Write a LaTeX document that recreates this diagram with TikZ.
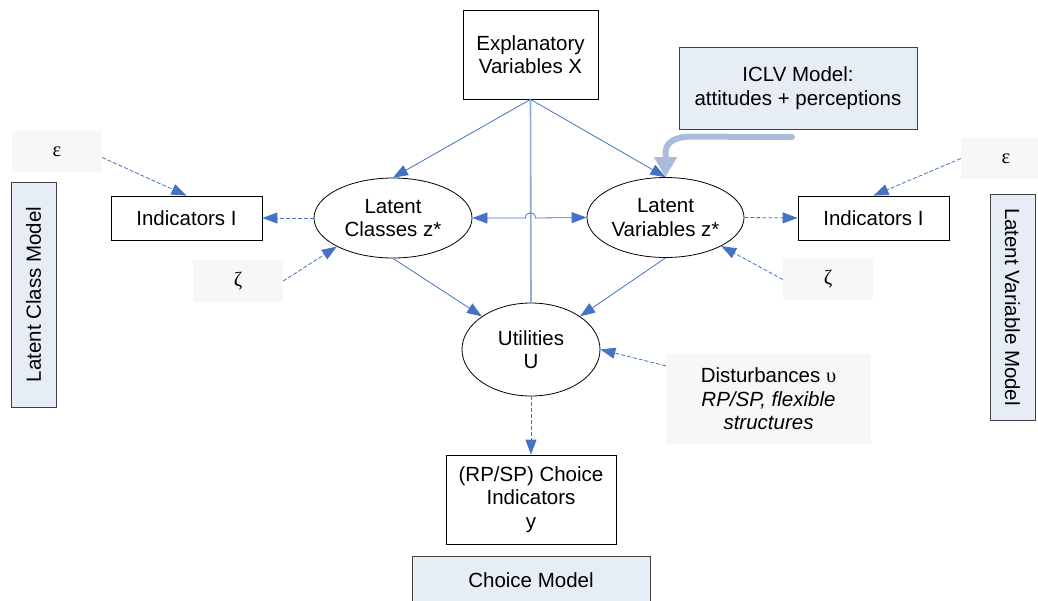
\documentclass[tikz,border=0pt]{standalone}
\usepackage{fontspec}
\setmainfont{Liberation Sans}
\newfontfamily\grk{Liberation Serif}
\usetikzlibrary{shapes.geometric,arrows.meta,calc}
\definecolor{arrowblue}{HTML}{4472C4}
\definecolor{vblue}{HTML}{8EAADB}
\definecolor{thickblue}{HTML}{A9BDDA}
\definecolor{mfill}{HTML}{E6EDF7}
\definecolor{gfill}{HTML}{F7F7F7}
\begin{document}
\begin{tikzpicture}[x=1pt,y=-1pt,
  every node/.style={font=\fontsize{20.5}{23.5}\selectfont, align=center, inner sep=0pt},
  box/.style={draw=black, line width=0.8pt, rectangle},
  ell/.style={draw=black, line width=0.8pt, ellipse},
  gbox/.style={fill=gfill, rectangle},
  mbox/.style={draw=black!75, line width=0.9pt, fill=mfill, rectangle},
  tip/.tip={Triangle[length=15pt,width=11pt]},
  link/.style={draw=arrowblue, line width=0.8pt, -tip},
  dlink/.style={link, dash pattern=on 4pt off 2pt},
  vline/.style={draw=vblue, line width=1.6pt},
  thickarrow/.style={draw=thickblue, line width=6pt, line cap=round, -{Triangle[length=20pt,width=22pt]}}
]
\clip (0,0) rectangle (1038,600);
\fill[white] (0,0) rectangle (1038,600);

% nodes
\node[box, minimum width=135pt, minimum height=89pt] (X) at (530.5,54.5) {Explanatory\\Variables X};
\node[mbox, minimum width=238pt, minimum height=82pt] (iclv) at (798,88) {ICLV Model:\\attitudes + perceptions};
\node[ell, minimum width=158pt, minimum height=80pt] (lc) at (393,218) {Latent\\Classes z*};
\node[ell, minimum width=157pt, minimum height=80pt] (lv) at (665.5,217.5) {Latent\\Variables z*};
\node[box, minimum width=151pt, minimum height=44pt] (indL) at (186.5,218) {Indicators I};
\node[box, minimum width=151pt, minimum height=44pt] (indR) at (873.5,218) {Indicators I};
\node[gbox, minimum width=90pt, minimum height=41pt] (epsL) at (57,151.5) {\grk ε};
\node[gbox, minimum width=90pt, minimum height=42pt] (zetaL) at (238,281) {\grk ζ};
\node[gbox, minimum width=90pt, minimum height=41pt] (epsR) at (1006,158.5) {\grk ε};
\node[gbox, minimum width=90pt, minimum height=41pt] (zetaR) at (828,279.5) {\grk ζ};
\node[ell, minimum width=138pt, minimum height=93pt] (U) at (531,349.5) {Utilities\\U};
\node[gbox, minimum width=205pt, minimum height=90pt] (dist) at (768.5,399) {Disturbances {\grk υ}\\\textit{RP/SP, flexible}\\\textit{structures}};
\node[box, minimum width=170pt, minimum height=89pt] (ch) at (531,499.5) {(RP/SP) Choice\\Indicators\\y};
\node[mbox, minimum width=238pt, minimum height=48pt] (cm) at (531,580) {Choice Model};
\node[mbox, rotate=90, minimum width=225pt, minimum height=45pt] (lcm) at (33.5,294.5) {Latent Class Model};
\node[mbox, rotate=-90, minimum width=226pt, minimum height=45pt] (lvm) at (1012.5,307) {Latent Variable Model};

% connectors
\draw[vline] (X.south) -- (U.north);
\draw[link] (X.south) -- (lc.north);
\draw[link] (X.south) -- (lv.north);
\coordinate (hop) at (X.south |- lc.east);
\draw[link, tip-tip] (lc.east) -- ($(hop)+(-5,0)$) .. controls ($(hop)+(-5,-7)$) and ($(hop)+(5,-7)$) .. ($(hop)+(5,0)$) -- (lv.west);
\draw[dlink] (lc.west) -- (indL.east);
\draw[dlink] (lv.east) -- (indR.west);
\draw[dlink] ($(epsL.east)+(0,6)$) -- (indL.north);
\draw[dlink] (zetaL.east) -- (lc.south west);
\draw[dlink] (epsR.west) -- (indR.north);
\draw[dlink] (zetaR.west) -- (lv.south east);
\draw[link] (lc.south) -- (U.north west);
\draw[link] (lv.south) -- (U.north east);
\draw[dlink] ($(dist.north west)+(0,12)$) -- (U.east);
\draw[dlink] (U.south) -- (ch.north);

\coordinate (ts) at (792,137);
\draw[thickarrow] (ts) -- ($(lv.north)+(26,-40.5)$) .. controls ($(lv.north)+(8,-40.5)$) and ($(lv.north)+(0,-34)$) .. ($(lv.north)+(0,-24)$) -- (lv.north);
\end{tikzpicture}
\end{document}
